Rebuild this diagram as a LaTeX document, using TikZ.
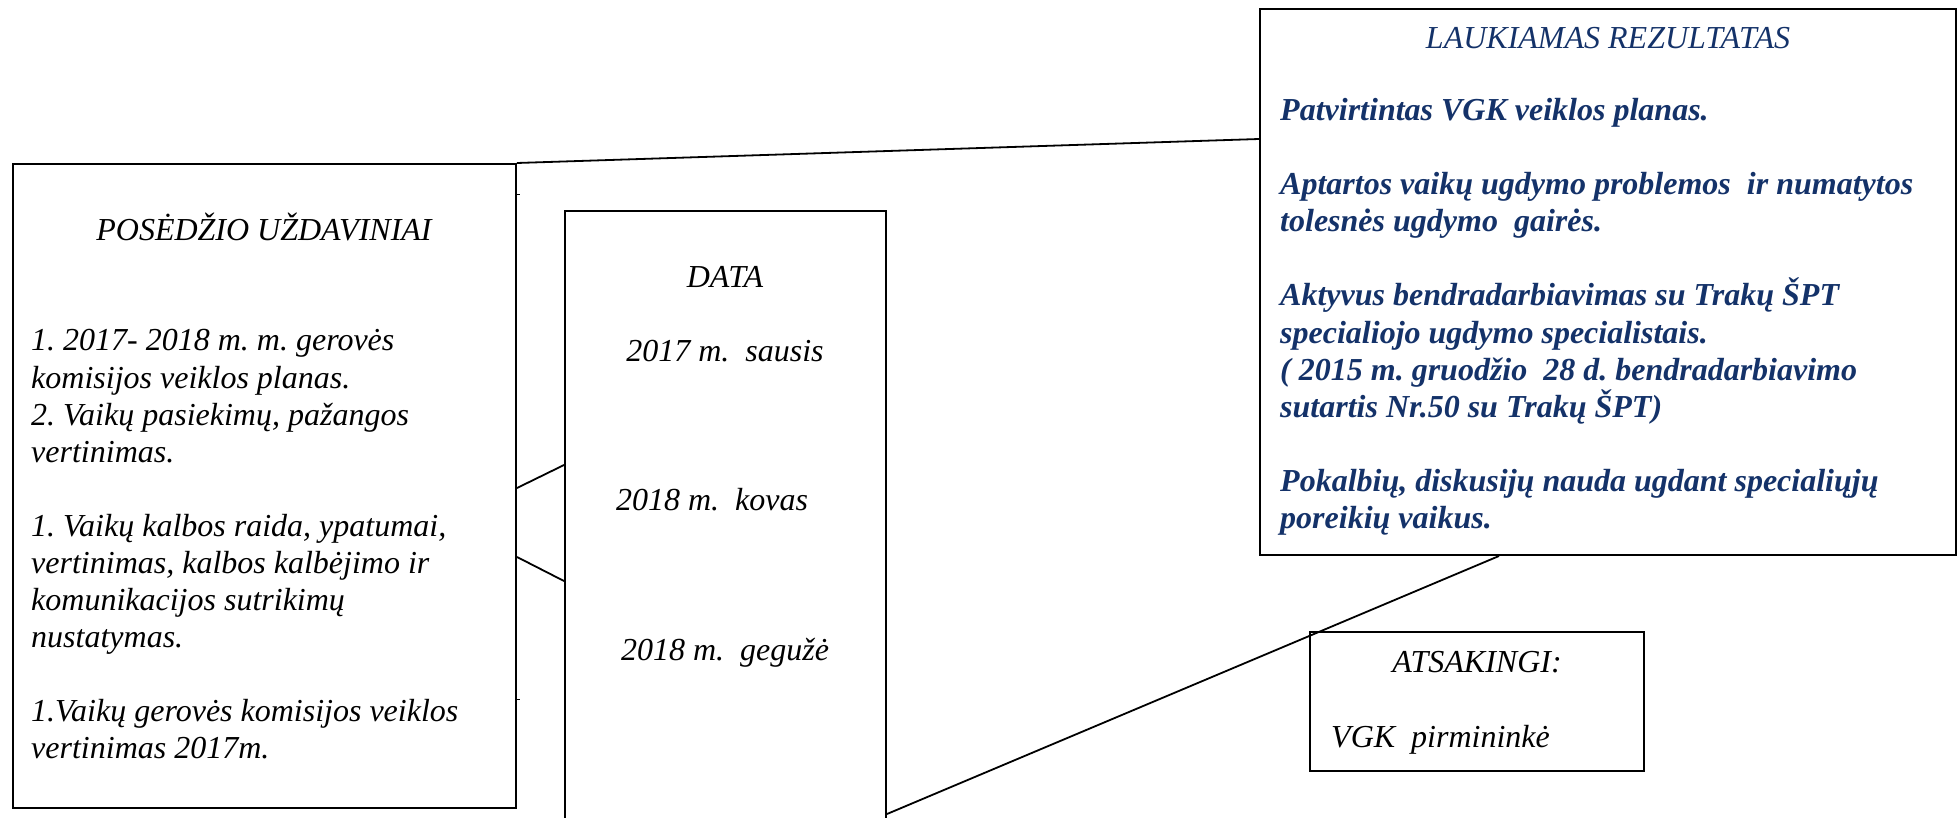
\documentclass[tikz,border=0pt]{standalone}
\usepackage{fontspec}
\setmainfont{Liberation Serif}
\frenchspacing
\definecolor{navy}{RGB}{20,50,105}
\tikzset{
  box/.style={draw=black, line width=2pt, inner sep=0pt, fill=none},
  conn/.style={draw=black, line width=1.8pt},
  txt/.style={inner sep=0pt, font=\fontsize{32}{37}\selectfont\itshape},
  btxt/.style={inner sep=0pt, text=navy, font=\fontsize{32}{37}\selectfont\bfseries\itshape},
}
\begin{document}
\begin{tikzpicture}[x=1pt,y=-1pt]
\useasboundingbox (0,0) rectangle (1960,818);
\clip (0,0) rectangle (1960,818);
% boxes
\node[box, minimum width=503.5pt, minimum height=643.5pt] (tasks) at (264.25,485.75) {};
\node[box, minimum width=321pt, minimum height=640pt] (data) at (725.5,531) {};
\node[box, minimum width=696pt, minimum height=546pt] (result) at (1608,282) {};
\node[box, minimum width=334pt, minimum height=139pt] (resp) at (1477,701.5) {};
% connectors
\draw[conn] (tasks.north east) -- ([yshift=-131pt]result.north west);
\draw[conn] ([yshift=-325pt]tasks.north east) -- ([yshift=-255pt]data.north west);
\draw[conn] ([yshift=-394pt]tasks.north east) -- ([yshift=-371pt]data.north west);
\draw[conn] ([yshift=-604pt]data.north east) -- ([xshift=240pt]result.south west);
\coordinate (t1) at ([yshift=-32pt]tasks.north east);
\coordinate (t2) at ([yshift=-536pt]tasks.north east);
\draw[line width=1pt] (t1) -- ++(3,0);
\draw[line width=1pt] (t2) -- ++(3,0);
% left box texts
\node[txt, anchor=base] (tt) at (264,241) {POSĖDŽIO UŽDAVINIAI};
\node[txt, anchor=base west] (a1) at (31,351) {1. 2017- 2018 m. m. gerovės};
\node[txt, anchor=base west] (a2) at (31,388) {komisijos veiklos planas.};
\node[txt, anchor=base west] (a3) at (31,425) {2. Vaikų pasiekimų, pažangos};
\node[txt, anchor=base west] (a4) at (31,462) {vertinimas.};
\node[txt, anchor=base west] (b1) at (31,536) {1. Vaikų kalbos raida, ypatumai,};
\node[txt, anchor=base west] (b2) at (31,573) {vertinimas, kalbos kalbėjimo ir};
\node[txt, anchor=base west] (b3) at (31,610) {komunikacijos sutrikimų};
\node[txt, anchor=base west] (b4) at (31,647) {nustatymas.};
\node[txt, anchor=base west] (c1) at (31,721) {1.Vaikų gerovės komisijos veiklos};
\node[txt, anchor=base west] (c2) at (31,758) {vertinimas 2017m.};
% data texts
\node[txt, anchor=base] (dt) at (725,288) {DATA};
\node[txt, anchor=base] (d1) at (725,361) {2017 m.\ \ sausis};
\node[txt, anchor=base] (d2) at (712,510) {2018 m.\ \ kovas};
\node[txt, anchor=base] (d3) at (725,660) {2018 m.\ \ gegužė};
% result texts
\node[txt, text=navy, anchor=base] (rt) at (1608,49) {LAUKIAMAS REZULTATAS};
\node[btxt, anchor=base west] (r1) at (1280,121) {Patvirtintas VGK veiklos planas.};
\node[btxt, anchor=base west] (r2) at (1280,195) {Aptartos vaikų ugdymo problemos\ \ ir numatytos};
\node[btxt, anchor=base west] (r3) at (1280,232) {tolesnės ugdymo\ \ gairės.};
\node[btxt, anchor=base west] (r4) at (1280,306) {Aktyvus bendradarbiavimas su Trakų ŠPT};
\node[btxt, anchor=base west] (r5) at (1280,343) {specialiojo ugdymo specialistais.};
\node[btxt, anchor=base west] (r6) at (1280,380) {( 2015 m. gruodžio\ \ 28 d. bendradarbiavimo};
\node[btxt, anchor=base west] (r7) at (1280,417) {sutartis Nr.50 su Trakų ŠPT)};
\node[btxt, anchor=base west] (r8) at (1280,491) {Pokalbių, diskusijų nauda ugdant specialiųjų};
\node[btxt, anchor=base west] (r9) at (1280,528) {poreikių vaikus.};
% responsible
\node[txt, anchor=base] (st) at (1477,672) {ATSAKINGI:};
\node[txt, anchor=base west] (s1) at (1331,747) {VGK\ \ pirmininkė};
\end{tikzpicture}
\end{document}
